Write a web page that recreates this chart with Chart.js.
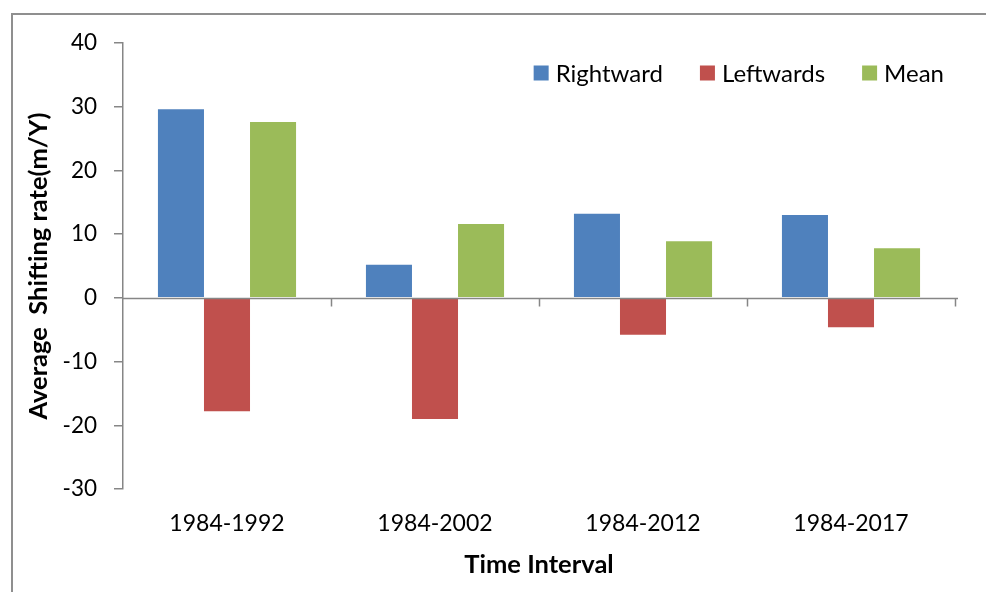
<!DOCTYPE html>
<html>
<head>
<meta charset="utf-8">
<script src="https://cdn.jsdelivr.net/npm/chart.js@4/dist/chart.umd.min.js"></script>
<style>
  html, body { margin: 0; padding: 0; background: #fff; }
  canvas { display: block; }
</style>
</head>
<body>
<canvas id="c" width="986" height="592"></canvas>
<script>
// Average shifting rate per time interval
const categories = ['1984-1992', '1984-2002', '1984-2012', '1984-2017'];
const rightward = [29.6, 5.2, 13.2, 13.0];
const leftwards = [-17.8, -19.0, -5.8, -4.6];
const meanRate = [27.6, 11.6, 8.9, 7.8];
const seriesNames = ['Rightward', 'Leftwards', 'Mean'];
const seriesColors = ['#4F81BD', '#C0504D', '#9BBB59'];
const yMin = -30, yMax = 40, yStep = 10;
const xTitle = 'Time Interval';
const yTitle = 'Average  Shifting rate(m/Y)';

const FONT = 'Lato, "Open Sans", sans-serif';
const AXIS_GRAY = '#868686';

// Outer frame of the figure
const framePlugin = {
  id: 'frame',
  beforeDraw(chart) {
    const ctx = chart.ctx;
    ctx.save();
    ctx.strokeStyle = '#8f8f8f';
    ctx.lineWidth = 2;
    ctx.strokeRect(12, 14, chart.width + 100, chart.height + 100);
    ctx.restore();
  }
};

// Category axis drawn across the zero line, with short ticks at category boundaries
const zeroAxisPlugin = {
  id: 'zeroAxis',
  afterDatasetsDraw(chart) {
    const {ctx, chartArea, scales: {x, y}} = chart;
    const y0 = Math.round(y.getPixelForValue(0)) + 0.5;
    ctx.save();
    ctx.strokeStyle = AXIS_GRAY;
    ctx.lineWidth = 1.5;
    ctx.beginPath();
    ctx.moveTo(chartArea.left, y0);
    ctx.lineTo(chartArea.right + 3, y0);
    const n = categories.length;
    const step = (x.getPixelForValue(1) - x.getPixelForValue(0));
    for (let i = 1; i <= n; i++) {
      const px = Math.round(x.getPixelForValue(i) - step / 2) + 0.5;
      ctx.moveTo(px, y0);
      ctx.lineTo(px, y0 + 8);
    }
    ctx.stroke();
    ctx.restore();
  }
};

// Legend drawn inside the plot area, top right
const legendPlugin = {
  id: 'insideLegend',
  afterDraw(chart) {
    const {ctx, chartArea} = chart;
    const box = 15, textGap = 7, itemGap = 37;
    ctx.save();
    ctx.font = '24px ' + FONT;
    ctx.textBaseline = 'middle';
    const widths = chart.data.datasets.map(d => ctx.measureText(d.label).width);
    const total = widths.reduce((a, w) => a + box + textGap + w, 0) + itemGap * (widths.length - 1);
    let xPos = chartArea.right - 11 - total;
    const cy = chartArea.top + 30;
    chart.data.datasets.forEach((d, i) => {
      ctx.fillStyle = d.backgroundColor;
      ctx.fillRect(xPos, cy - box / 2, box, box);
      ctx.fillStyle = '#000';
      ctx.fillText(d.label, xPos + box + textGap, cy + 1);
      xPos += box + textGap + widths[i] + itemGap;
    });
    ctx.restore();
  }
};

const seriesValues = [rightward, leftwards, meanRate];

new Chart(document.getElementById('c'), {
  type: 'bar',
  data: {
    labels: categories,
    datasets: seriesNames.map((name, i) => ({
      label: name,
      data: seriesValues[i],
      backgroundColor: seriesColors[i],
      borderWidth: 0,
      barPercentage: 1,
      categoryPercentage: 0.664
    }))
  },
  options: {
    responsive: false,
    animation: false,
    devicePixelRatio: 1,
    layout: { padding: { left: 0, top: 43, right: 31, bottom: 0 } },
    plugins: {
      legend: { display: false },
      tooltip: { enabled: false }
    },
    scales: {
      x: {
        grid: { display: false, drawTicks: false },
        border: { display: false },
        ticks: { color: '#000', font: { family: FONT, size: 23 }, padding: 21 },
        title: {
          display: true, text: xTitle, color: '#000',
          font: { family: FONT, size: 25.5, weight: 'bold' },
          padding: { top: 0, bottom: 12 }
        },
        afterFit(scale) { scale.height = 103; }
      },
      y: {
        min: yMin, max: yMax,
        ticks: { stepSize: yStep, color: '#000', font: { family: FONT, size: 22.5 }, padding: 17 },
        grid: { display: true, drawOnChartArea: false, drawTicks: true, tickLength: 9, color: AXIS_GRAY, lineWidth: 1.5 },
        border: { display: true, color: AXIS_GRAY, width: 1.5 },
        title: {
          display: true, text: yTitle, color: '#000',
          font: { family: FONT, size: 25.5, weight: 'bold' },
          padding: { top: 23, bottom: 0 }
        },
        afterFit(scale) { scale.width = 123; }
      }
    }
  },
  plugins: [framePlugin, zeroAxisPlugin, legendPlugin]
});
</script>
</body>
</html>
